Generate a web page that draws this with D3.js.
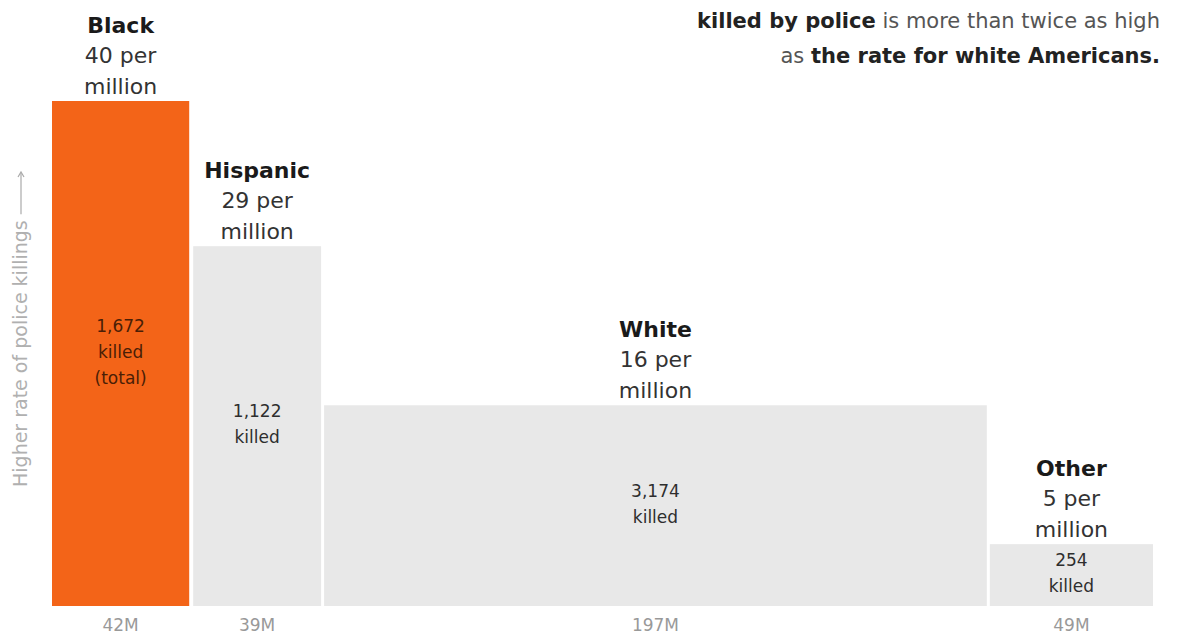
<!DOCTYPE html>
<html>
<head>
<meta charset="utf-8">
<script src="https://cdn.jsdelivr.net/npm/d3@7"></script>
<style>
  body { margin: 0; background: #fff; }
  svg { display: block; font-family: "DejaVu Sans", "Liberation Sans", sans-serif; }
</style>
</head>
<body>
<div class="chart"></div>
<script>
// data
var groups = ["Black", "Hispanic", "White", "Other"];
var population = [41.2, 38.4, 199, 49];    // millions, as drawn (bar widths)
var popLabels = ["42M", "39M", "197M", "49M"];
var ratePerMillion = [40, 28.5, 15.9, 4.9]; // bar heights as drawn
var rateLabels = ["40", "29", "16", "5"];
var killed = ["1,672", "1,122", "3,174", "254"];

var width = 1192, height = 635;
var gaps = [0, 4, 3, 3];
var plotLeft = 52, plotRight = 1153, plotBase = 606, plotTop = 101;

var svg = d3.select(".chart").append("svg")
  .attr("width", width)
  .attr("height", height);

var totalPop = d3.sum(population);
var x = d3.scaleLinear()
  .domain([0, totalPop])
  .range([plotLeft, plotRight - d3.sum(gaps)]);

var y = d3.scaleLinear()
  .domain([0, d3.max(ratePerMillion)])
  .range([plotBase, plotTop]);

// cumulative start positions
var rows = [];
var cum = 0, off = 0;
groups.forEach(function (g, i) {
  off += gaps[i];
  rows.push({
    name: g,
    x0: x(cum) + off,
    x1: x(cum + population[i]) + off,
    rate: ratePerMillion[i],
    rateLabel: rateLabels[i],
    killed: killed[i],
    pop: popLabels[i],
    highlight: i === 0
  });
  cum += population[i];
});

var bars = svg.selectAll(".bar")
  .data(rows)
  .enter()
  .append("g")
  .attr("class", "bar");

bars.append("rect")
  .attr("x", function (d) { return d.x0; })
  .attr("width", function (d) { return d.x1 - d.x0; })
  .attr("y", function (d) { return y(d.rate); })
  .attr("height", function (d) { return plotBase - y(d.rate); })
  .attr("fill", function (d) { return d.highlight ? "#f36418" : "#e8e8e8"; });

// group name + rate above each bar
var head = bars.append("text")
  .attr("text-anchor", "middle")
  .attr("font-size", 22)
  .attr("fill", "#1a1a1a");

head.append("tspan")
  .attr("x", function (d) { return (d.x0 + d.x1) / 2; })
  .attr("y", function (d) { return y(d.rate) - 68; })
  .attr("font-weight", "bold")
  .text(function (d) { return d.name; });

head.append("tspan")
  .attr("x", function (d) { return (d.x0 + d.x1) / 2; })
  .attr("y", function (d) { return y(d.rate) - 38; })
  .attr("fill", "#333")
  .text(function (d) { return d.rateLabel + " per"; });

head.append("tspan")
  .attr("x", function (d) { return (d.x0 + d.x1) / 2; })
  .attr("y", function (d) { return y(d.rate) - 7; })
  .attr("fill", "#333")
  .text("million");

// killed counts inside bars
var inner = bars.append("text")
  .attr("text-anchor", "middle")
  .attr("font-size", 17)
  .attr("fill", function (d) { return d.highlight ? "#4a1e06" : "#2e2e2e"; });

inner.each(function (d) {
  var lines = [d.killed, "killed"];
  if (d.highlight) lines.push("(total)");
  var cy = (y(d.rate) + plotBase) / 2 + 4;
  var startY = cy - (lines.length - 1) * 26 / 2;
  var t = d3.select(this);
  lines.forEach(function (l, k) {
    t.append("tspan")
      .attr("x", (d.x0 + d.x1) / 2)
      .attr("y", startY + k * 26)
      .text(l);
  });
});

// population labels below
bars.append("text")
  .attr("x", function (d) { return (d.x0 + d.x1) / 2; })
  .attr("y", 631)
  .attr("text-anchor", "middle")
  .attr("font-size", 17)
  .attr("fill", "#999")
  .text(function (d) { return d.pop; });

// y axis label with arrow
var yl = svg.append("text")
  .attr("transform", "translate(27,487) rotate(-90)")
  .attr("font-size", 19)
  .attr("fill", "#b0b0b0")
  .text("Higher rate of police killings");
var len = yl.node().getComputedTextLength();
var a0 = 487 - len - 6, a1 = 172;
svg.append("line")
  .attr("x1", 21).attr("x2", 21)
  .attr("y1", a0).attr("y2", a1 + 1)
  .attr("stroke", "#aaa").attr("stroke-width", 1.2);
svg.append("path")
  .attr("d", "M18," + (a1 + 5) + "L21," + a1 + "L24," + (a1 + 5))
  .attr("fill", "none")
  .attr("stroke", "#aaa").attr("stroke-width", 1.2);

// headline text, top right
var t1 = svg.append("text")
  .attr("x", 1160).attr("y", 28)
  .attr("text-anchor", "end")
  .attr("font-size", 21)
  .attr("fill", "#555");
t1.append("tspan").attr("font-weight", "bold").attr("fill", "#222").text("killed by police");
t1.append("tspan").text(" is more than twice as high");

var t2 = svg.append("text")
  .attr("x", 1160).attr("y", 63)
  .attr("text-anchor", "end")
  .attr("font-size", 21)
  .attr("fill", "#555");
t2.append("tspan").text("as ");
t2.append("tspan").attr("font-weight", "bold").attr("fill", "#222").text("the rate for white Americans.");
</script>
</body>
</html>
